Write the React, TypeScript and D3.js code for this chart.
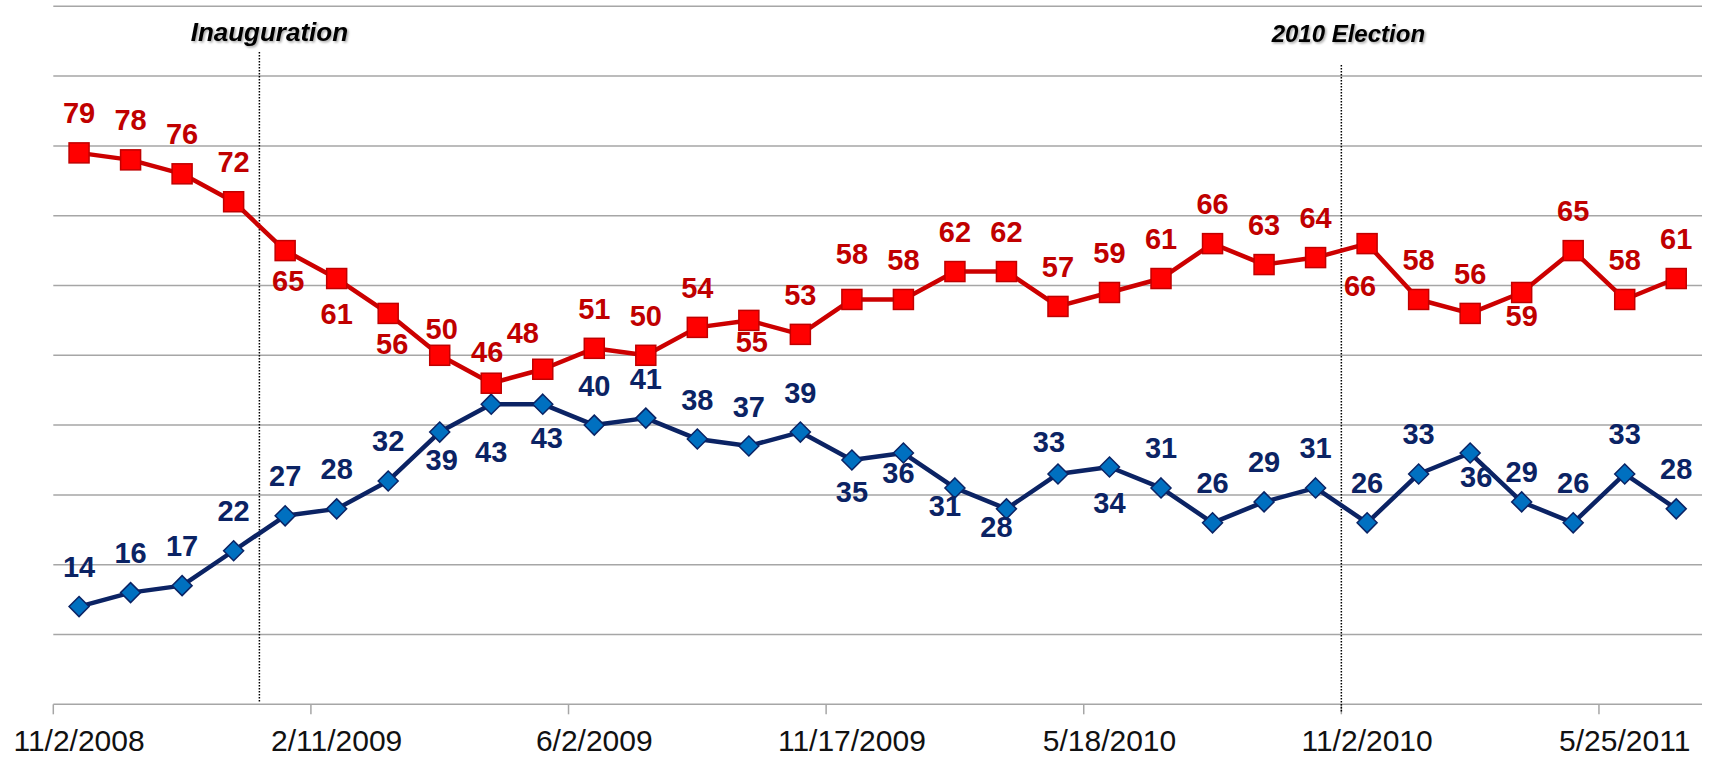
import React, { useRef, useEffect } from 'react';
import * as d3 from 'd3';

// poll series, one value per survey
const redValues: number[] = [79, 78, 76, 72, 65, 61, 56, 50, 46, 48, 51, 50, 54, 55, 53, 58, 58, 62, 62, 57, 59, 61, 66, 63, 64, 66, 58, 56, 59, 65, 58, 61];
const blueValues: number[] = [14, 16, 17, 22, 27, 28, 32, 39, 43, 43, 40, 41, 38, 37, 39, 35, 36, 31, 28, 33, 34, 31, 26, 29, 31, 26, 33, 36, 29, 26, 33, 28];

// date labels shown on every 5th survey
const tickLabels: string[] = ['11/2/2008', '2/11/2009', '6/2/2009', '11/17/2009', '5/18/2010', '11/2/2010', '5/25/2011'];
const tickEvery = 5;

// events marked between surveys (index of the survey right after)
const eventNames: string[] = ['Inauguration', '2010 Election'];
const eventAt: number[] = [4, 25];

// hand placed data labels: [dx, dy] of label centre from the point (default: above)
const redLabelShift: Record<number, [number, number]> = {
    4: [3, 30], 5: [0, 35], 6: [4, 30], 7: [2, -27], 8: [-4, -32], 9: [-20, -37],
    13: [3, 21], 15: [0, -46], 25: [-7, 42], 28: [0, 23],
};
const blueLabelShift: Record<number, [number, number]> = {
    7: [2, 27], 8: [0, 47], 9: [4, 33], 15: [0, 31], 16: [-5, 19], 17: [-10, 18],
    18: [-10, 18], 19: [-9, -32], 20: [0, 36], 27: [6, 23], 28: [0, -30],
};

const width = 1709;
const height = 757;
const FONT = '"Liberation Sans", Arial, sans-serif';

function PollChart() {
    const d3Container = useRef<SVGSVGElement>(null);

    useEffect(() => {
        if (!d3Container.current) return;
        const svg = d3.select(d3Container.current);
        svg.selectAll('*').remove();

        const left = 53.3, right = 1702;
        const x = d3.scaleBand<number>()
            .domain(d3.range(redValues.length))
            .range([left, right]);
        const y = d3.scaleLinear().domain([0, 100]).range([704.3, 6.3]);
        const cx = (i: number) => (x(i) as number) + x.bandwidth() / 2;
        const edge = (i: number) => left + i * x.step();

        const defs = svg.append('defs');
        const f = defs.append('filter').attr('id', 'txtShadow')
            .attr('x', '-10%').attr('y', '-40%').attr('width', '130%').attr('height', '190%');
        f.append('feDropShadow').attr('dx', 1.5).attr('dy', 1.5)
            .attr('stdDeviation', 1.3).attr('flood-color', '#000').attr('flood-opacity', 0.35);

        // gridlines
        svg.append('g').selectAll('line')
            .data(d3.range(10, 101, 10))
            .join('line')
            .attr('x1', left).attr('x2', right)
            .attr('y1', (d: number) => y(d)).attr('y2', (d: number) => y(d))
            .attr('stroke', '#a6a6a6').attr('stroke-width', 1.5);

        // x axis
        const axis = svg.append('g');
        axis.append('line')
            .attr('x1', left).attr('x2', right)
            .attr('y1', y(0)).attr('y2', y(0))
            .attr('stroke', '#a6a6a6').attr('stroke-width', 1.5);
        axis.selectAll('line.tick')
            .data(tickLabels)
            .join('line')
            .attr('class', 'tick')
            .attr('x1', (_: string, k: number) => edge(k * tickEvery))
            .attr('x2', (_: string, k: number) => edge(k * tickEvery))
            .attr('y1', y(0)).attr('y2', y(0) + 10)
            .attr('stroke', '#a6a6a6').attr('stroke-width', 1.5);
        axis.selectAll('text')
            .data(tickLabels)
            .join('text')
            .attr('x', (_: string, k: number) => cx(k * tickEvery))
            .attr('y', 751)
            .attr('text-anchor', 'middle')
            .attr('font-family', FONT)
            .attr('font-size', 30)
            .attr('fill', '#111')
            .text((d: string) => d);

        // event markers
        const ev = svg.append('g');
        ev.selectAll('line')
            .data(eventAt)
            .join('line')
            .attr('x1', (d: number) => edge(d)).attr('x2', (d: number) => edge(d))
            .attr('y1', (_: number, k: number) => (k === 0 ? 52 : 65))
            .attr('y2', (_: number, k: number) => (k === 0 ? 702 : 713))
            .attr('stroke', '#000').attr('stroke-width', 1.5)
            .attr('stroke-dasharray', '1.5 1.5');
        ev.selectAll('text')
            .data(eventNames)
            .join('text')
            .attr('x', (_: string, k: number) => edge(eventAt[k]) + (k === 0 ? 10 : 7))
            .attr('y', (_: string, k: number) => (k === 0 ? 41 : 42))
            .attr('text-anchor', 'middle')
            .attr('font-family', FONT)
            .attr('font-size', (_: string, k: number) => (k === 0 ? 26 : 24))
            .attr('font-weight', 'bold')
            .attr('font-style', 'italic')
            .attr('fill', '#000')
            .attr('filter', 'url(#txtShadow)')
            .text((d: string) => d);

        const line = d3.line<number>()
            .x((_: number, i: number) => cx(i))
            .y((d: number) => y(d));

        // blue series
        const blue = svg.append('g');
        blue.append('path')
            .datum(blueValues)
            .attr('d', line)
            .attr('fill', 'none')
            .attr('stroke', '#0b2364')
            .attr('stroke-width', 4.5)
            .attr('stroke-linejoin', 'round');
        blue.selectAll('path.mk')
            .data(blueValues)
            .join('path')
            .attr('class', 'mk')
            .attr('d', (d: number, i: number) => {
                const px = cx(i), py = y(d);
                return `M${px},${py - 10}L${px + 10},${py}L${px},${py + 10}L${px - 10},${py}Z`;
            })
            .attr('fill', '#0070c0')
            .attr('stroke', '#0b2364')
            .attr('stroke-width', 1.5);

        // red series
        const red = svg.append('g');
        red.append('path')
            .datum(redValues)
            .attr('d', line)
            .attr('fill', 'none')
            .attr('stroke', '#cc0000')
            .attr('stroke-width', 4.5)
            .attr('stroke-linejoin', 'round');
        red.selectAll('rect')
            .data(redValues)
            .join('rect')
            .attr('x', (_: number, i: number) => cx(i) - 10)
            .attr('y', (d: number) => y(d) - 10)
            .attr('width', 20).attr('height', 20)
            .attr('fill', '#ff0000')
            .attr('stroke', '#c00000')
            .attr('stroke-width', 1.5);

        // data labels
        const addLabels = (values: number[], shift: Record<number, [number, number]>, color: string) => {
            svg.append('g').selectAll('text')
                .data(values)
                .join('text')
                .attr('x', (_: number, i: number) => cx(i) + (shift[i] ? shift[i][0] : 0))
                .attr('y', (d: number, i: number) => y(d) + (shift[i] ? shift[i][1] : -40) + 10.5)
                .attr('text-anchor', 'middle')
                .attr('font-family', FONT)
                .attr('font-size', 29)
                .attr('font-weight', 'bold')
                .attr('fill', color)
                .text((d: number) => d);
        };
        addLabels(redValues, redLabelShift, '#c00000');
        addLabels(blueValues, blueLabelShift, '#0b2364');
    }, []);

    return (
        <svg
            width={width}
            height={height}
            ref={d3Container}
            style={{ position: 'absolute', left: 0, top: 0, background: '#fff' }}
        />
    );
}

export default function App() {
    return <PollChart />;
}
